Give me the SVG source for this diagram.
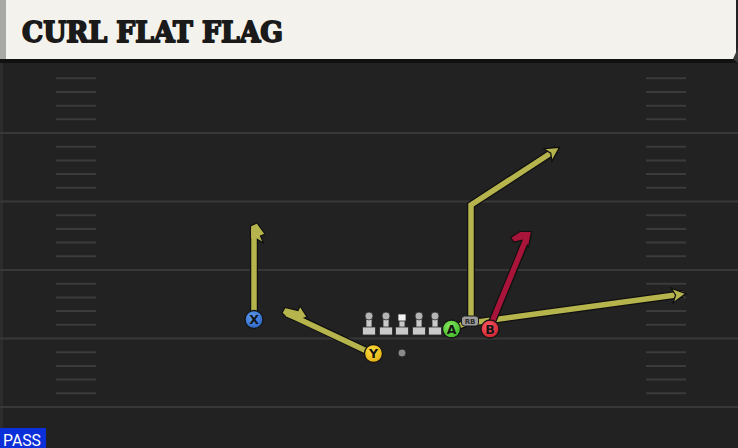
<svg xmlns="http://www.w3.org/2000/svg" width="738" height="448" viewBox="0 0 738 448">
<style>
.yl{stroke:#383838;stroke-width:2}
.hs{stroke:#3b3b3b;stroke-width:2}
.ro{fill:none;stroke:#101010;stroke-width:8;stroke-linejoin:miter;stroke-linecap:butt}
.ri{fill:none;stroke:#b6b44c;stroke-width:5.5;stroke-linejoin:miter}
.rr{fill:none;stroke:#a8143a;stroke-width:5.5;stroke-linejoin:miter}
.pl{stroke:#151515;stroke-width:1.3}
.lt{font-family:"DejaVu Sans","Liberation Sans",sans-serif;font-weight:bold;font-size:12.5px;fill:#141414;text-anchor:middle}
.ol{fill:#c9c9c9;stroke:#2a2a2a;stroke-width:0.8}
</style>
<defs>
<marker id="ah" viewBox="-2 -10 20 20" markerWidth="20" markerHeight="20" refX="11" refY="0" orient="auto" markerUnits="userSpaceOnUse">
<path d="M0,-7.5 L14,0 L0,7.5 L3.5,0 Z" fill="#b6b44c" stroke="#101010" stroke-width="1.3"/>
</marker>
<radialGradient id="gb" cx="0.4" cy="0.35" r="0.7"><stop offset="0" stop-color="#5d9cf0"/><stop offset="1" stop-color="#2a62c0"/></radialGradient>
<radialGradient id="gy" cx="0.4" cy="0.35" r="0.7"><stop offset="0" stop-color="#ffdc40"/><stop offset="1" stop-color="#e0ad10"/></radialGradient>
<radialGradient id="gg" cx="0.4" cy="0.35" r="0.7"><stop offset="0" stop-color="#86e860"/><stop offset="1" stop-color="#3eb526"/></radialGradient>
<radialGradient id="gr" cx="0.4" cy="0.35" r="0.7"><stop offset="0" stop-color="#ff5a64"/><stop offset="1" stop-color="#c8202e"/></radialGradient>
<g id="lm">
<rect x="-3" y="-11" width="6" height="11" class="ol"/>
<rect x="-6.5" y="-1" width="13" height="8" rx="1" class="ol"/>
<circle cx="0" cy="-12" r="4" fill="#b5b5b5" stroke="#2a2a2a" stroke-width="0.8"/>
</g>
</defs>

<rect x="0" y="0" width="738" height="448" fill="#222222"/>
<rect x="0" y="60" width="3" height="388" fill="#2c2c2c"/>

<g id="field">
<line class="yl" x1="0" y1="133" x2="738" y2="133"/>
<line class="yl" x1="0" y1="201.5" x2="738" y2="201.5"/>
<line class="yl" x1="0" y1="270" x2="738" y2="270"/>
<line class="yl" x1="0" y1="338.5" x2="738" y2="338.5"/>
<line class="yl" x1="0" y1="407" x2="738" y2="407"/>
<g id="hashes">
<path class="hs" d="M56 78.3H96M56 92H96M56 105.7H96M56 119.3H96M56 146.7H96M56 160.4H96M56 174.1H96M56 187.8H96M56 215.2H96M56 228.9H96M56 242.6H96M56 256.3H96M56 283.7H96M56 297.4H96M56 311.1H96M56 324.8H96M56 352.2H96M56 365.9H96M56 379.6H96M56 393.3H96"/>
<path class="hs" d="M646 78.3H686M646 92H686M646 105.7H686M646 119.3H686M646 146.7H686M646 160.4H686M646 174.1H686M646 187.8H686M646 215.2H686M646 228.9H686M646 242.6H686M646 256.3H686M646 283.7H686M646 297.4H686M646 311.1H686M646 324.8H686M646 352.2H686M646 365.9H686M646 379.6H686M646 393.3H686"/>
</g>
</g>

<g id="header">
<rect x="0" y="59" width="738" height="4" fill="#111111"/>
<rect x="0" y="0" width="736" height="59" fill="#f4f2ec"/>
<rect x="0" y="0" width="6" height="59" fill="#a8a8a4"/>
<path d="M733 59 L738 48 L738 63 Z" fill="#3a3a3a"/>
<text x="22" y="42" font-family="'DejaVu Serif','Liberation Serif',serif" font-weight="bold" font-size="28" fill="#1a1a1a" stroke="#1a1a1a" stroke-width="1.8" stroke-linejoin="round" textLength="261" lengthAdjust="spacingAndGlyphs">CURL FLAT FLAG</text>
</g>

<g id="connectors">
<!-- X curl -->
<path class="ro" d="M254 320 V227"/>
<path d="M250.5 226 L257 223 L265 234 L260.5 236 L263.5 243 L256 238.5 L250.5 238.5 Z" fill="#b6b44c" stroke="#101010" stroke-width="1.2" stroke-linejoin="miter"/>
<path class="ri" d="M254 320 V229"/>
<!-- Y curl -->
<path class="ro" d="M373 354 L285 312"/>
<path d="M282 313 L285 307.5 L298 310.5 L300 306 L307 317 L296 321 L286 317 Z" fill="#b6b44c" stroke="#101010" stroke-width="1.2"/>
<path class="ri" d="M373 354 L287 313.5"/>
<!-- A flag -->
<path class="ro" d="M451 329 L471 321 V205 L557 149"/>
<path class="ri" d="M451 329 L471 321 V205 L557 149" marker-end="url(#ah)"/>
<!-- RB flat -->
<path class="ro" d="M470 323 L683 294"/>
<path class="ri" d="M470 323 L683 294" marker-end="url(#ah)"/>
<!-- B route -->
<path class="ro" d="M490 327 L528 235"/>
<path d="M531.5 231.5 L528.5 247 L524 240 L514 242 L510.5 237.5 L520 231.5 Z" fill="#a8143a" stroke="#101010" stroke-width="1.2"/>
<path class="rr" d="M490 327 L527 237"/>
</g>

<g id="oline">
<use href="#lm" x="369" y="328"/>
<use href="#lm" x="386" y="328"/>
<g transform="translate(402,328)">
<rect x="-3" y="-8" width="6" height="8" class="ol"/>
<rect x="-6.5" y="-1" width="13" height="8" rx="1" class="ol"/>
<rect x="-4" y="-14" width="8" height="7" fill="#f4f4f4" stroke="#2a2a2a" stroke-width="0.8"/>
</g>
<use href="#lm" x="419" y="328"/>
<use href="#lm" x="435" y="328"/>
</g>

<g id="ball"><circle cx="402" cy="353" r="4" fill="#8a8a8a" stroke="#1a1a1a" stroke-width="0.8"/></g>

<g id="rb">
<rect x="461.5" y="316" width="17" height="10" rx="3" fill="#9c9c9c" stroke="#1c1c1c" stroke-width="1"/>
<text x="470" y="324" font-family="'DejaVu Sans',sans-serif" font-size="7" font-weight="bold" fill="#2a2a2a" text-anchor="middle">RB</text>
</g>

<g id="X"><circle cx="254" cy="319.5" r="9" fill="url(#gb)" class="pl"/><text class="lt" x="254" y="324">X</text></g>
<g id="Y"><circle cx="373.5" cy="353.5" r="9" fill="url(#gy)" class="pl"/><text class="lt" x="373.5" y="358">Y</text></g>
<g id="A"><circle cx="451.5" cy="329" r="9" fill="url(#gg)" class="pl"/><text class="lt" x="451.5" y="333.5">A</text></g>
<g id="B"><circle cx="490" cy="329" r="9" fill="url(#gr)" class="pl"/><text class="lt" x="490" y="333.5">B</text></g>

<g id="pass">
<rect x="0" y="428" width="46" height="20" fill="#0b2fd8"/>
<text x="3" y="445.5" font-family="Roboto,'Liberation Sans',sans-serif" font-size="16" fill="#ffffff" textLength="38" lengthAdjust="spacingAndGlyphs">PASS</text>
</g>
</svg>
